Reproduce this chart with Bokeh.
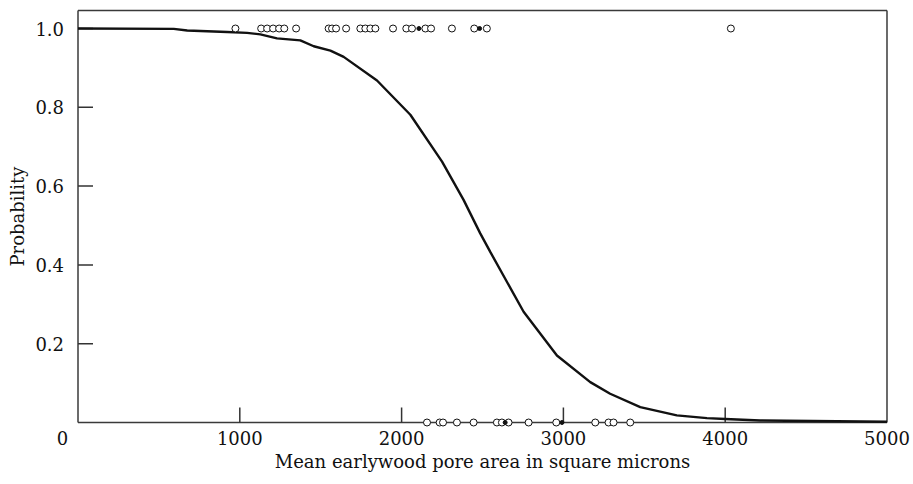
import math
from bokeh.plotting import figure
from bokeh.models import Range1d
from bokeh.core.properties import value
from bokeh.embed import file_html
from bokeh.resources import INLINE

# fitted probability curve
curve_x = [0, 592, 675, 922, 1045, 1127, 1230, 1374, 1457, 1560, 1642, 1848, 2054,
           2250, 2383, 2486, 2548, 2754, 2960, 3166, 3289, 3475, 3701, 3887, 4000,
           4216, 5000]
curve_p = [1.0, 0.999, 0.995, 0.991, 0.989, 0.985, 0.975, 0.970, 0.955, 0.944, 0.928,
           0.868, 0.781, 0.662, 0.565, 0.480, 0.433, 0.281, 0.170, 0.1025, 0.073,
           0.039, 0.018, 0.011, 0.009, 0.005, 0.002]

# observations at probability 1
top_x = [973, 1132, 1169, 1206, 1243, 1275, 1348, 1549, 1570, 1595, 1657, 1745, 1776,
         1807, 1838, 1947, 2029, 2064, 2147, 2182, 2311, 2449, 2527, 4035]
top_dot_x = [2107, 2482]
# observations at probability 0
bottom_x = [2157, 2235, 2256, 2342, 2445, 2589, 2620, 2661, 2785, 2956, 3197, 3279,
            3310, 3413]
bottom_dot_x = [2640, 2991]

x_ticks = [1000, 2000, 3000, 4000]
x_label_vals = [1000, 2000, 3000, 4000, 5000]
x_tick_labels = ["1000", "2000", "3000", "4000", "5000"]
y_ticks = [0.2, 0.4, 0.6, 0.8, 1.0]
y_tick_labels = ["0.2", "0.4", "0.6", "0.8", "1.0"]
origin_label = "0"
x_title = "Mean earlywood pore area in square microns"
y_title = "Probability"

X_MIN, X_MAX = 0, 5000
Y_MIN, Y_TOP = 0, 1.0457

FONT = "DejaVu Serif"
INK = "#111111"
FS = "18px"

# frame spans the whole canvas; every guide is drawn as a glyph
p = figure(width=913, height=484, output_backend="svg", toolbar_location=None,
           x_range=Range1d(-479.0, 5163.8), y_range=Range1d(-0.15736, 1.07107),
           x_axis_location=None, y_axis_location=None, min_border=0)
p.grid.visible = False
p.outline_line_color = None
p.background_fill_color = "white"
p.border_fill_color = "white"

# frame box
box_xs = [[X_MIN, X_MAX], [X_MIN, X_MAX], [X_MIN, X_MIN], [X_MAX, X_MAX]]
box_ys = [[Y_MIN, Y_MIN], [Y_TOP, Y_TOP], [Y_MIN, Y_TOP], [Y_MIN, Y_TOP]]
p.multi_line(xs=box_xs, ys=box_ys, line_color="#3a3a3a", line_width=1.5)

# inward x ticks
tick_len_y = 15 / 394
tick_len_x = 15 / 0.1618
p.multi_line(xs=[[t, t] for t in x_ticks],
             ys=[[Y_MIN, Y_MIN + tick_len_y] for t in x_ticks],
             line_color="#333333", line_width=1.5)
# inward y ticks as 15px dash markers
p.scatter(x=[X_MIN + tick_len_x / 2] * len(y_ticks), y=y_ticks, marker="dash", size=15,
          line_color="#333333", line_width=1.5)

# curve
p.line(curve_x, curve_p, line_color="#111111", line_width=2.4)

# observations
p.scatter(top_x, [1.0] * len(top_x), marker="circle", size=7, fill_color="white",
          line_color="#111111", line_width=1)
p.scatter(bottom_x, [0.0] * len(bottom_x), marker="circle", size=7, fill_color="white",
          line_color="#111111", line_width=1)
p.scatter(top_dot_x + bottom_dot_x, [1.0] * len(top_dot_x) + [0.0] * len(bottom_dot_x),
          marker="circle", size=4, fill_color="#111111", line_color="#111111")

txt = dict(text_font=value(FONT), text_font_size=value(FS), text_color=INK,
           text_baseline="middle")

# x tick labels
p.text(x=x_label_vals, y=[Y_MIN] * len(x_label_vals), text=x_tick_labels,
       y_offset=15, text_align="center", **txt)
# shared origin label
p.text(x=[X_MIN], y=[Y_MIN], text=[origin_label], x_offset=-15.5, y_offset=15,
       text_align="center", **txt)
# y tick labels
p.text(x=[X_MIN] * len(y_ticks), y=y_ticks, text=y_tick_labels, x_offset=-14,
       text_align="right", **txt)
# axis titles
p.text(x=[(X_MIN + X_MAX) / 2], y=[Y_MIN], text=[x_title], y_offset=39,
       text_align="center", **txt)
p.text(x=[X_MIN], y=[Y_TOP / 2], text=[y_title], x_offset=-60.5, angle=math.pi / 2,
       text_align="center", **txt)

open("out.html", "w").write(file_html(p, INLINE))
